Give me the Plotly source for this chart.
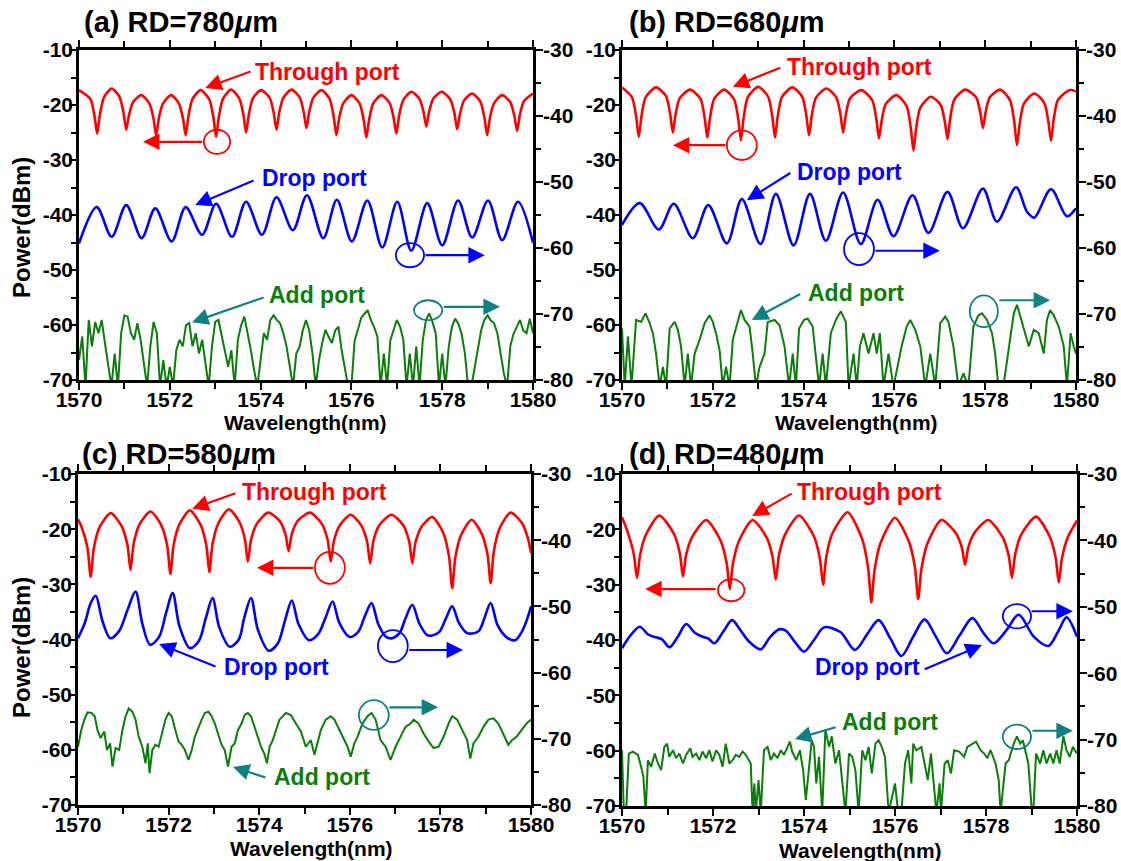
import numpy as np
import plotly.graph_objects as go

# ------------------------------------------------------------------ data
# Wavelength axis (nm)
WL_RANGE = [1570, 1580]
LEFT_RANGE = [-70, -10]     # Power (dBm), through port axis
RIGHT_RANGE = [-80, -30]    # Power (dBm), drop/add port axis
left_tickvals = [-70, -60, -50, -40, -30, -20, -10]
left_ticktext = ["-70", "-60", "-50", "-40", "-30", "-20", "-10"]
right_tickvals = [-80, -70, -60, -50, -40, -30]
right_ticktext = ["-80", "-70", "-60", "-50", "-40", "-30"]
wl_tickvals = [1570, 1572, 1574, 1576, 1578, 1580]
wl_ticktext = ["1570", "1572", "1574", "1576", "1578", "1580"]

# ---------- (a) RD = 780 um ----------
thr_a_x = [1570.00, 1570.25, 1570.34, 1570.40, 1570.46, 1570.55, 1570.72, 1570.89, 1570.98, 1571.04, 1571.10, 1571.19,
           1571.37, 1571.55, 1571.64, 1571.70, 1571.76, 1571.85, 1572.03, 1572.20, 1572.29, 1572.35, 1572.41, 1572.50,
           1572.68, 1572.87, 1572.96, 1573.02, 1573.08, 1573.17, 1573.35, 1573.53, 1573.62, 1573.68, 1573.74, 1573.83,
           1574.01, 1574.20, 1574.29, 1574.35, 1574.41, 1574.50, 1574.68, 1574.86, 1574.95, 1575.01, 1575.07, 1575.16,
           1575.34, 1575.52, 1575.61, 1575.67, 1575.73, 1575.82, 1576.00, 1576.18, 1576.27, 1576.33, 1576.39, 1576.48,
           1576.66, 1576.84, 1576.93, 1576.99, 1577.05, 1577.14, 1577.32, 1577.50, 1577.59, 1577.65, 1577.71, 1577.80,
           1577.99, 1578.18, 1578.27, 1578.33, 1578.39, 1578.48, 1578.66, 1578.84, 1578.93, 1578.99, 1579.05, 1579.14,
           1579.32, 1579.50, 1579.59, 1579.65, 1579.71, 1579.80, 1580.00]
thr_a_y = [-17.3, -18.9, -21.9, -25.2, -21.8, -18.6, -17.0, -18.5, -21.35, -24.5, -21.9, -19.5,
           -18.2, -19.7, -22.4, -25.5, -22.4, -19.7, -18.2, -19.7, -22.4, -25.5, -22.1, -18.9,
           -17.3, -19.0, -22.2, -25.8, -22.2, -18.9, -17.2, -18.8, -21.7, -25.0, -21.8, -18.8,
           -17.3, -18.7, -21.5, -24.5, -21.4, -18.7, -17.2, -18.6, -21.3, -24.2, -21.3, -18.7,
           -17.3, -18.9, -22.1, -25.5, -22.4, -19.7, -18.2, -19.7, -22.7, -25.9, -22.7, -19.7,
           -18.2, -19.6, -22.3, -25.2, -22.0, -19.1, -17.6, -18.9, -21.3, -23.9, -21.3, -18.9,
           -17.6, -19.0, -21.5, -24.4, -21.7, -19.2, -17.9, -19.4, -22.3, -25.5, -22.4, -19.7,
           -18.2, -19.5, -22.0, -24.7, -21.8, -19.3, -17.9]
drop_a_x = [1570.00, 1570.39, 1570.72, 1571.04, 1571.38, 1571.68, 1572.04, 1572.35, 1572.71, 1573.02, 1573.37,
            1573.68, 1574.03, 1574.35, 1574.71, 1575.02, 1575.38, 1575.68, 1576.01, 1576.35, 1576.68, 1577.01,
            1577.32, 1577.67, 1578.00, 1578.35, 1578.66, 1579.01, 1579.32, 1579.67, 1580.00]
drop_a_y = [-59.3, -53.8, -58.3, -53.5, -58.5, -54.0, -59.0, -53.8, -58.0, -53.3, -58.3,
            -53.0, -58.0, -52.3, -57.3, -52.0, -58.5, -52.7, -59.0, -52.8, -59.9, -53.0,
            -60.4, -53.2, -59.6, -52.8, -58.4, -52.8, -58.8, -53.0, -59.2]
add_a_x = list(np.round(np.linspace(1570, 1580, 141), 4))
add_a_y = [-77.0, -73.4, -81, -70.9, -74.9, -71.2, -72.9, -70.9, -74.4, -78.0,
           -81, -76.0, -81, -72.9, -70.2, -70.4, -72.9, -73.9, -71.4, -73.9,
           -78.0, -81, -74.9, -71.2, -72.9, -81, -77.0, -81, -78.0, -81,
           -75.5, -73.9, -74.9, -71.7, -71.4, -74.9, -72.9, -76.0, -73.9, -78.0,
           -81, -74.9, -71.2, -70.9, -73.4, -75.5, -78.0, -75.5, -81, -73.9,
           -71.7, -70.4, -72.9, -75.5, -78.5, -81, -77.0, -72.9, -73.9, -70.9,
           -70.2, -70.9, -71.4, -72.9, -74.9, -78.0, -81, -76.0, -75.0, -72.5,
           -70.9, -72.5, -76.0, -81, -77.0, -74.4, -72.4, -73.5, -74.4, -72.5,
           -71.9, -75.5, -78.0, -81, -81, -74.0, -72.4, -70.6, -70.0, -69.4,
           -70.9, -72.0, -73.4, -81, -76.0, -81, -74.0, -72.4, -70.9, -71.9,
           -73.9, -81, -76.0, -81, -74.9, -81, -74.0, -70.9, -69.9, -71.2,
           -72.9, -81, -76.0, -81, -75.0, -71.9, -70.7, -71.5, -73.0, -76.0,
           -81, -81, -78.0, -74.9, -72.5, -70.9, -70.2, -71.0, -71.4, -72.9,
           -76.0, -79.0, -81, -74.9, -73.0, -71.9, -70.9, -72.5, -72.9, -70.7,
           -72.9]

# ---------- (b) RD = 680 um ----------
thr_b_x = [1570.00, 1570.22, 1570.31, 1570.37, 1570.43, 1570.52, 1570.75, 1570.97, 1571.06, 1571.12, 1571.18, 1571.27,
           1571.50, 1571.73, 1571.82, 1571.88, 1571.94, 1572.03, 1572.25, 1572.47, 1572.56, 1572.62, 1572.68, 1572.77,
           1573.00, 1573.22, 1573.31, 1573.37, 1573.43, 1573.52, 1573.75, 1573.97, 1574.06, 1574.12, 1574.18, 1574.27,
           1574.50, 1574.72, 1574.81, 1574.87, 1574.93, 1575.02, 1575.27, 1575.51, 1575.60, 1575.66, 1575.72, 1575.81,
           1576.04, 1576.27, 1576.36, 1576.42, 1576.48, 1576.57, 1576.80, 1577.02, 1577.11, 1577.17, 1577.23, 1577.32,
           1577.56, 1577.80, 1577.89, 1577.95, 1578.01, 1578.10, 1578.33, 1578.55, 1578.64, 1578.70, 1578.76, 1578.85,
           1579.08, 1579.30, 1579.39, 1579.45, 1579.51, 1579.60, 1579.85, 1580.00]
thr_b_y = [-16.8, -18.6, -22.0, -25.8, -22.0, -18.6, -16.8, -18.4, -21.6, -25.0, -21.7, -18.8,
           -17.2, -18.9, -22.3, -25.9, -22.3, -18.9, -17.2, -19.0, -22.5, -26.4, -22.3, -18.6,
           -16.7, -18.5, -22.0, -25.9, -22.1, -18.6, -16.8, -18.5, -21.9, -25.5, -21.9, -18.7,
           -17.0, -18.6, -21.6, -25.0, -21.8, -18.8, -17.3, -19.1, -22.4, -26.1, -22.8, -19.8,
           -18.2, -20.2, -24.1, -28.3, -24.2, -20.5, -18.5, -20.0, -23.0, -26.2, -22.4, -19.0,
           -17.2, -18.6, -21.3, -24.2, -21.3, -18.6, -17.2, -19.2, -23.1, -27.3, -23.4, -19.8,
           -17.9, -19.6, -22.9, -26.5, -22.6, -19.1, -17.3, -17.5]
drop_b_x = [1570.00, 1570.39, 1570.81, 1571.14, 1571.56, 1571.90, 1572.31, 1572.64, 1573.05, 1573.39, 1573.78,
            1574.14, 1574.49, 1574.87, 1575.26, 1575.63, 1575.98, 1576.40, 1576.75, 1577.17, 1577.51, 1577.95,
            1578.26, 1578.68, 1578.92, 1579.08, 1579.45, 1579.80, 1580.00]
drop_b_y = [-56.5, -53.2, -57.2, -53.3, -58.5, -53.5, -59.3, -52.6, -59.4, -51.8, -59.6,
            -51.8, -58.9, -51.6, -59.4, -52.7, -58.2, -52.0, -57.7, -51.5, -57.0, -51.0,
            -56.0, -50.8, -54.5, -55.4, -51.1, -55.2, -54.0]
add_b_x = [1570.00, 1570.06, 1570.13, 1570.21, 1570.31, 1570.42, 1570.52, 1570.61, 1570.68, 1570.75,
           1570.83, 1570.90, 1570.97, 1571.05, 1571.16, 1571.23, 1571.30, 1571.38, 1571.45, 1571.52,
           1571.60, 1571.71, 1571.82, 1571.93, 1572.00, 1572.07, 1572.15, 1572.22, 1572.29, 1572.37,
           1572.44, 1572.55, 1572.62, 1572.70, 1572.81, 1572.88, 1572.95, 1573.03, 1573.14, 1573.21,
           1573.36, 1573.47, 1573.58, 1573.68, 1573.76, 1573.83, 1573.90, 1574.01, 1574.09, 1574.20,
           1574.34, 1574.42, 1574.49, 1574.60, 1574.71, 1574.82, 1574.93, 1574.99, 1575.10, 1575.17,
           1575.24, 1575.32, 1575.43, 1575.54, 1575.61, 1575.68, 1575.76, 1575.87, 1575.98, 1576.16,
           1576.27, 1576.35, 1576.46, 1576.57, 1576.68, 1576.79, 1576.90, 1577.01, 1577.12, 1577.19,
           1577.30, 1577.41, 1577.52, 1577.63, 1577.74, 1577.85, 1577.93, 1578.04, 1578.15, 1578.22,
           1578.29, 1578.40, 1578.51, 1578.63, 1578.70, 1578.77, 1578.88, 1578.96, 1579.07, 1579.18,
           1579.29, 1579.36, 1579.43, 1579.51, 1579.62, 1579.73, 1579.80, 1579.88, 1579.95, 1580.00]
add_b_y = [-72.2, -81, -73.4, -81, -70.9, -71.2, -69.9, -71.4, -72.9, -76.0,
           -81, -78.0, -81, -72.2, -71.2, -72.4, -74.9, -81, -76.0, -81,
           -76.0, -73.9, -71.4, -70.2, -71.2, -72.9, -75.5, -81, -78.0, -81,
           -73.9, -70.9, -69.4, -70.9, -71.9, -76.0, -81, -78.0, -76.0, -71.2,
           -70.9, -71.7, -74.9, -81, -76.0, -81, -72.2, -70.9, -70.7, -71.9,
           -81, -76.0, -81, -72.9, -70.9, -69.6, -71.2, -81, -76.0, -81,
           -74.9, -72.9, -76.0, -72.9, -76.0, -72.9, -81, -76.0, -81, -74.9,
           -71.9, -70.9, -72.4, -74.9, -81, -76.0, -81, -71.4, -70.4, -71.2,
           -74.9, -81, -79.0, -81, -71.9, -70.2, -69.9, -70.9, -72.9, -76.0,
           -81, -81, -75.5, -69.9, -68.6, -70.4, -72.9, -74.9, -72.4, -72.9,
           -76.0, -70.9, -69.4, -70.2, -71.9, -74.9, -81, -72.9, -74.9, -76.0]

# ---------- (c) RD = 580 um ----------
thr_c_x = [1570.00, 1570.08, 1570.21, 1570.28, 1570.35, 1570.48, 1570.72, 1570.96, 1571.09, 1571.16, 1571.23, 1571.36,
           1571.60, 1571.84, 1571.97, 1572.04, 1572.11, 1572.24, 1572.47, 1572.70, 1572.83, 1572.90, 1572.97, 1573.10,
           1573.33, 1573.55, 1573.68, 1573.75, 1573.82, 1573.95, 1574.20, 1574.45, 1574.58, 1574.65, 1574.72, 1574.85,
           1575.12, 1575.38, 1575.51, 1575.58, 1575.65, 1575.78, 1576.02, 1576.25, 1576.38, 1576.45, 1576.52, 1576.65,
           1576.92, 1577.18, 1577.31, 1577.38, 1577.45, 1577.58, 1577.82, 1578.06, 1578.19, 1578.26, 1578.33, 1578.46,
           1578.69, 1578.91, 1579.04, 1579.11, 1579.18, 1579.31, 1579.55, 1579.80, 1579.93, 1580.00]
thr_c_y = [-18.2, -19.6, -23.4, -28.6, -23.4, -19.6, -17.1, -19.4, -22.8, -27.4, -22.6, -19.1,
           -16.8, -19.3, -23.0, -28.1, -22.9, -19.1, -16.6, -19.1, -22.8, -27.8, -22.7, -18.9,
           -16.4, -18.5, -21.6, -25.9, -21.9, -19.0, -17.0, -18.5, -20.9, -24.0, -20.9, -18.5,
           -17.0, -19.0, -21.9, -25.9, -22.1, -19.3, -17.4, -19.3, -22.2, -26.2, -22.2, -19.3,
           -17.4, -19.3, -22.2, -26.2, -22.4, -19.6, -17.8, -20.6, -24.9, -30.7, -25.1, -21.0,
           -18.3, -20.8, -24.6, -29.8, -24.0, -19.8, -17.0, -18.9, -21.6, -24.3]
drop_c_x = [1570.00, 1570.15, 1570.28, 1570.39, 1570.54, 1570.71, 1570.91, 1571.09, 1571.27, 1571.42, 1571.59,
            1571.79, 1571.94, 1572.09, 1572.24, 1572.47, 1572.67, 1572.82, 1572.97, 1573.12, 1573.35, 1573.55,
            1573.67, 1573.82, 1573.97, 1574.21, 1574.41, 1574.57, 1574.72, 1574.87, 1575.10, 1575.30, 1575.47,
            1575.62, 1575.77, 1575.99, 1576.19, 1576.33, 1576.48, 1576.63, 1576.80, 1576.94, 1577.10, 1577.23,
            1577.38, 1577.53, 1577.70, 1577.82, 1577.98, 1578.11, 1578.26, 1578.41, 1578.58, 1578.70, 1578.85,
            1578.96, 1579.11, 1579.26, 1579.45, 1579.65, 1579.80, 1579.92, 1580.00]
drop_c_y = [-54.8, -52.5, -49.5, -48.4, -52.2, -54.8, -53.7, -50.6, -47.75, -52.6, -55.8,
            -54.6, -51.1, -48.0, -53.0, -56.3, -55.2, -51.8, -48.75, -53.2, -56.1, -55.0,
            -51.7, -48.75, -53.5, -56.7, -55.6, -52.1, -49.1, -52.7, -55.1, -54.2, -51.6,
            -49.25, -52.5, -54.6, -53.8, -51.5, -49.5, -52.7, -54.6, -54.8, -54.0, -51.8,
            -49.75, -52.5, -54.3, -54.4, -53.8, -52.0, -50.0, -52.5, -54.0, -54.1, -53.7,
            -52.0, -49.5, -52.8, -54.6, -55.1, -53.8, -51.8, -50.0]
add_c_x = [1570.00, 1570.07, 1570.14, 1570.21, 1570.30, 1570.37, 1570.43, 1570.50, 1570.58, 1570.64,
           1570.71, 1570.76, 1570.83, 1570.91, 1570.98, 1571.05, 1571.12, 1571.20, 1571.27, 1571.34,
           1571.42, 1571.49, 1571.54, 1571.58, 1571.64, 1571.71, 1571.78, 1571.85, 1571.93, 1572.00,
           1572.07, 1572.15, 1572.22, 1572.29, 1572.36, 1572.44, 1572.51, 1572.58, 1572.66, 1572.73,
           1572.80, 1572.88, 1572.95, 1573.02, 1573.09, 1573.17, 1573.24, 1573.31, 1573.39, 1573.46,
           1573.53, 1573.61, 1573.68, 1573.75, 1573.82, 1573.90, 1573.97, 1574.04, 1574.12, 1574.17,
           1574.23, 1574.30, 1574.37, 1574.45, 1574.59, 1574.70, 1574.81, 1574.92, 1575.03, 1575.14,
           1575.22, 1575.29, 1575.36, 1575.47, 1575.58, 1575.66, 1575.77, 1575.88, 1575.95, 1576.02,
           1576.10, 1576.17, 1576.28, 1576.39, 1576.48, 1576.57, 1576.68, 1576.79, 1576.90, 1577.01,
           1577.12, 1577.23, 1577.34, 1577.41, 1577.52, 1577.63, 1577.74, 1577.85, 1577.96, 1578.07,
           1578.18, 1578.26, 1578.37, 1578.48, 1578.59, 1578.66, 1578.73, 1578.84, 1578.95, 1579.06,
           1579.17, 1579.28, 1579.39, 1579.50, 1579.58, 1579.68, 1579.79, 1579.90, 1580.00]
add_c_y = [-71.2, -68.7, -67.1, -66.0, -66.1, -66.6, -68.7, -69.9, -68.9, -71.7,
           -70.7, -74.2, -71.4, -71.7, -68.7, -66.6, -65.4, -65.9, -67.1, -69.7,
           -71.2, -73.7, -70.7, -75.2, -71.7, -70.9, -71.2, -69.2, -67.1, -66.1,
           -66.6, -68.7, -70.4, -70.9, -71.7, -73.2, -71.7, -69.7, -68.2, -67.1,
           -66.1, -65.9, -66.6, -67.7, -69.2, -70.9, -71.7, -74.2, -71.2, -70.7,
           -68.7, -67.7, -66.4, -66.1, -66.6, -68.2, -69.7, -71.2, -72.4, -73.7,
           -71.2, -70.2, -68.7, -67.1, -66.1, -66.4, -67.7, -68.9, -71.2, -70.2,
           -72.4, -70.7, -68.7, -67.1, -66.6, -67.1, -68.7, -70.2, -71.2, -72.7,
           -70.7, -69.7, -67.7, -66.6, -66.1, -67.1, -70.2, -71.2, -73.2, -71.2,
           -69.7, -68.2, -67.7, -67.1, -67.7, -69.2, -70.4, -71.4, -71.2, -69.7,
           -67.7, -66.6, -67.1, -68.7, -70.2, -73.0, -70.7, -69.7, -68.2, -67.1,
           -66.9, -67.7, -69.2, -70.9, -70.2, -69.7, -68.7, -67.7, -67.1]

# ---------- (d) RD = 480 um ----------
thr_d_x = [1570.00, 1570.13, 1570.26, 1570.33, 1570.40, 1570.53, 1570.82, 1571.14, 1571.27, 1571.34, 1571.41, 1571.54,
           1571.85, 1572.17, 1572.30, 1572.37, 1572.44, 1572.57, 1572.87, 1573.18, 1573.31, 1573.38, 1573.45, 1573.58,
           1573.89, 1574.22, 1574.35, 1574.42, 1574.49, 1574.62, 1574.96, 1575.28, 1575.41, 1575.48, 1575.55, 1575.68,
           1576.00, 1576.31, 1576.44, 1576.51, 1576.58, 1576.71, 1577.02, 1577.34, 1577.47, 1577.54, 1577.61, 1577.74,
           1578.05, 1578.37, 1578.50, 1578.57, 1578.64, 1578.77, 1579.10, 1579.40, 1579.53, 1579.60, 1579.67, 1579.80,
           1580.00]
thr_d_y = [-17.8, -20.6, -24.5, -28.8, -24.5, -20.9, -17.5, -20.8, -24.3, -28.5, -24.6, -21.4,
           -18.3, -22.1, -26.1, -30.8, -26.1, -22.1, -18.3, -21.5, -25.0, -29.1, -24.7, -21.0,
           -17.5, -21.3, -25.3, -30.0, -25.0, -20.8, -16.9, -21.8, -27.0, -33.2, -27.4, -22.5,
           -17.9, -22.3, -27.0, -32.6, -27.2, -22.6, -18.3, -20.7, -23.3, -26.4, -23.3, -20.7,
           -18.3, -21.5, -24.8, -28.8, -24.6, -21.0, -17.7, -21.3, -25.1, -29.6, -25.2, -21.4,
           -18.4]
drop_d_x = [1570.00, 1570.20, 1570.39, 1570.58, 1570.75, 1570.88, 1571.04, 1571.22, 1571.41, 1571.60, 1571.77,
            1571.90, 1572.03, 1572.22, 1572.42, 1572.60, 1572.80, 1573.05, 1573.25, 1573.45, 1573.60, 1573.80,
            1574.00, 1574.22, 1574.44, 1574.80, 1575.12, 1575.40, 1575.64, 1575.90, 1576.14, 1576.40, 1576.65,
            1576.90, 1577.14, 1577.42, 1577.70, 1577.95, 1578.17, 1578.45, 1578.72, 1579.05, 1579.37, 1579.58,
            1579.77, 1580.00]
drop_d_y = [-56.25, -54.2, -53.0, -54.2, -54.6, -54.9, -56.1, -54.6, -52.6, -53.9, -54.5,
            -54.8, -55.5, -53.8, -52.0, -53.5, -55.3, -56.4, -54.6, -53.4, -53.6, -55.3,
            -56.75, -55.0, -53.1, -53.8, -56.5, -54.0, -52.0, -54.8, -57.4, -54.5, -51.9,
            -54.5, -57.0, -54.3, -51.7, -54.0, -55.5, -53.5, -51.2, -54.5, -55.9, -53.8,
            -51.6, -54.5]
add_d_x = [1570.00, 1570.04, 1570.09, 1570.15, 1570.24, 1570.35, 1570.42, 1570.47, 1570.52, 1570.57,
           1570.64, 1570.72, 1570.79, 1570.86, 1570.93, 1570.99, 1571.04, 1571.12, 1571.19, 1571.26,
           1571.34, 1571.41, 1571.50, 1571.55, 1571.63, 1571.70, 1571.77, 1571.85, 1571.92, 1571.99,
           1572.07, 1572.14, 1572.21, 1572.28, 1572.36, 1572.43, 1572.50, 1572.58, 1572.65, 1572.72,
           1572.83, 1572.87, 1572.91, 1572.94, 1573.00, 1573.05, 1573.12, 1573.20, 1573.27, 1573.34,
           1573.42, 1573.49, 1573.56, 1573.64, 1573.69, 1573.74, 1573.83, 1573.91, 1573.98, 1574.04,
           1574.11, 1574.17, 1574.22, 1574.27, 1574.33, 1574.40, 1574.47, 1574.55, 1574.61, 1574.69,
           1574.77, 1574.84, 1574.91, 1574.99, 1575.06, 1575.13, 1575.20, 1575.28, 1575.35, 1575.42,
           1575.49, 1575.57, 1575.64, 1575.71, 1575.78, 1575.86, 1575.93, 1576.00, 1576.07, 1576.14,
           1576.22, 1576.29, 1576.36, 1576.40, 1576.47, 1576.58, 1576.65, 1576.72, 1576.79, 1576.87,
           1576.91, 1576.98, 1577.01, 1577.09, 1577.16, 1577.23, 1577.30, 1577.41, 1577.52, 1577.59,
           1577.70, 1577.78, 1577.88, 1577.96, 1578.03, 1578.10, 1578.21, 1578.28, 1578.32, 1578.38,
           1578.43, 1578.50, 1578.61, 1578.68, 1578.75, 1578.81, 1578.86, 1578.93, 1579.01, 1579.04,
           1579.10, 1579.19, 1579.26, 1579.33, 1579.41, 1579.48, 1579.55, 1579.62, 1579.70, 1579.77,
           1579.84, 1579.91, 1580.00]
add_d_y = [-71.6, -81, -81, -72.1, -71.8, -72.3, -74.1, -75.6, -81, -73.1,
           -74.1, -72.1, -73.6, -74.6, -71.1, -70.6, -72.6, -71.6, -72.8, -72.1,
           -73.6, -72.3, -71.3, -72.6, -72.1, -73.1, -71.8, -72.8, -71.6, -73.3,
           -71.6, -72.3, -74.1, -70.6, -73.6, -73.1, -72.3, -72.6, -71.8, -72.3,
           -73.6, -81, -76.6, -81, -76.1, -81, -71.6, -71.1, -73.1, -72.1,
           -72.8, -71.6, -72.3, -71.1, -70.3, -71.8, -73.1, -71.6, -74.6, -79.1,
           -73.6, -70.1, -71.1, -76.6, -72.6, -81, -68.5, -71.1, -69.5, -73.6,
           -71.6, -76.6, -81, -72.1, -72.6, -74.6, -81, -71.6, -73.1, -71.1,
           -75.1, -70.6, -70.1, -71.1, -72.6, -81, -78.6, -76.6, -81, -81,
           -73.6, -71.6, -76.6, -70.6, -71.6, -71.1, -73.6, -76.1, -72.1, -77.6,
           -81, -76.6, -81, -73.6, -73.1, -75.1, -71.6, -71.8, -72.6, -71.1,
           -70.6, -70.3, -71.6, -72.1, -72.8, -71.6, -73.6, -76.1, -81, -76.6,
           -73.6, -73.1, -70.6, -69.5, -70.6, -70.1, -71.6, -73.6, -81, -81,
           -72.1, -73.6, -71.6, -73.6, -72.1, -73.6, -71.6, -73.6, -69.5, -71.6,
           -72.6, -71.1, -72.1]

panel_titles = ["(a) RD=780", "(b) RD=680", "(c) RD=580", "(d) RD=480"]

for a, b in [(thr_a_x, thr_a_y), (drop_a_x, drop_a_y), (add_a_x, add_a_y),
             (thr_b_x, thr_b_y), (drop_b_x, drop_b_y), (add_b_x, add_b_y),
             (thr_c_x, thr_c_y), (drop_c_x, drop_c_y), (add_c_x, add_c_y),
             (thr_d_x, thr_d_y), (drop_d_x, drop_d_y), (add_d_x, add_d_y)]:
    assert len(a) == len(b), (len(a), len(b), a[0])

# ------------------------------------------------------------------ style
W, H = 1121, 861
FONT = "Liberation Sans, Arial, sans-serif"
RED, BLUE, GREEN, TEAL = "#ff0000", "#0000ff", "#0a7d0a", "#118080"


def px(x):
    return x / W


def py(y):
    return 1 - y / H


# panel pixel boxes: (left, right, top, bottom)
boxes = [(79, 533, 50, 380), (622, 1076, 50, 380), (78, 531, 474, 805), (622, 1077, 474, 806)]

fig = go.Figure()
series = [
    (thr_a_x, thr_a_y, drop_a_x, drop_a_y, add_a_x, add_a_y),
    (thr_b_x, thr_b_y, drop_b_x, drop_b_y, add_b_x, add_b_y),
    (thr_c_x, thr_c_y, drop_c_x, drop_c_y, add_c_x, add_c_y),
    (thr_d_x, thr_d_y, drop_d_x, drop_d_y, add_d_x, add_d_y),
]
tickfont = dict(family=FONT, size=21, color="black", weight="bold")
layout = {}
for i, (tx, ty, dx, dy, ax_, ay_) in enumerate(series):
    n = i + 1
    xs = "x" if n == 1 else f"x{n}"
    yl = "y" if n == 1 else f"y{n}"
    yr = f"y{n + 4}"
    fig.add_trace(go.Scatter(x=tx, y=ty, xaxis=xs, yaxis=yl, mode="lines",
                             line=dict(color=RED, width=2.6, shape="spline", smoothing=0.7),
                             showlegend=False, hoverinfo="skip"))
    fig.add_trace(go.Scatter(x=dx, y=dy, xaxis=xs, yaxis=yr, mode="lines",
                             line=dict(color=BLUE, width=2.6, shape="spline", smoothing=0.9),
                             showlegend=False, hoverinfo="skip"))
    fig.add_trace(go.Scatter(x=ax_, y=ay_, xaxis=xs, yaxis=yr, mode="lines",
                             line=dict(color=GREEN, width=2.0),
                             showlegend=False, hoverinfo="skip"))
    l, r, t, b = boxes[i]
    xdom = [px(l), px(r)]
    ydom = [py(b), py(t)]
    common = dict(showline=True, linewidth=2.6, linecolor="black", ticks="outside",
                  ticklen=7, tickwidth=2.4, tickcolor="black", showgrid=False,
                  zeroline=False, tickfont=tickfont, automargin=False, tickmode="array")
    layout["xaxis" if n == 1 else f"xaxis{n}"] = dict(
        domain=xdom, anchor=yl, range=WL_RANGE, tickvals=wl_tickvals, ticktext=wl_ticktext, mirror="ticks",
        minor=dict(dtick=1, tick0=1570, ticks="outside", ticklen=6, tickwidth=2.2, tickcolor="black", showgrid=False),
        ticklabelstandoff=-8, **common)
    layout["yaxis" if n == 1 else f"yaxis{n}"] = dict(
        domain=ydom, anchor=xs, range=LEFT_RANGE, tickvals=left_tickvals, ticktext=left_ticktext,
        minor=dict(dtick=5, tick0=-70, ticks="outside", ticklen=5, tickwidth=2.2, tickcolor="black", showgrid=False),
        ticklabelstandoff=-8, **common)
    layout[f"yaxis{n + 4}"] = dict(
        domain=ydom, anchor=xs, overlaying=yl, side="right", range=RIGHT_RANGE,
        tickvals=right_tickvals, ticktext=right_ticktext,
        minor=dict(dtick=5, tick0=-80, ticks="outside", ticklen=5, tickwidth=2.2, tickcolor="black", showgrid=False),
        ticklabelstandoff=-4, **common)

ann = []
shapes = []


def label(n, x, y, text, color):
    xr = "x" if n == 1 else f"x{n}"
    yr = "y" if n == 1 else f"y{n}"
    ann.append(dict(xref=xr, yref=yr, x=x, y=y, text=text, showarrow=False, xanchor="left",
                    yanchor="middle", font=dict(family=FONT, size=23, color=color, weight="bold")))


def arrow(n, tail, head, color):
    xr = "x" if n == 1 else f"x{n}"
    yr = "y" if n == 1 else f"y{n}"
    ann.append(dict(xref=xr, yref=yr, axref=xr, ayref=yr, x=head[0], y=head[1], ax=tail[0], ay=tail[1],
                    text="", showarrow=True, arrowhead=2, arrowsize=1.5, arrowwidth=2.2,
                    arrowcolor=color, standoff=0, startstandoff=0))


def ring(n, cx, cy, rx, ry, color):
    xr = "x" if n == 1 else f"x{n}"
    yr = "y" if n == 1 else f"y{n}"
    shapes.append(dict(type="circle", xref=xr, yref=yr, x0=cx - rx, x1=cx + rx, y0=cy - ry, y1=cy + ry,
                       line=dict(color=color, width=1.8)))


# (a)
label(1, 1573.83, -14.0, "Through port", RED)
arrow(1, (1573.81, -13.8), (1572.78, -16.9), RED)
ring(1, 1573.04, -26.7, 0.29, 2.2, RED)
arrow(1, (1572.75, -26.7), (1571.41, -26.7), RED)
label(1, 1573.99, -33.3, "Drop port", BLUE)
arrow(1, (1573.88, -33.6), (1572.56, -38.2), BLUE)
ring(1, 1577.29, -47.3, 0.31, 2.2, BLUE)
arrow(1, (1577.60, -47.3), (1578.94, -47.3), BLUE)
label(1, 1574.14, -54.5, "Add port", GREEN)
arrow(1, (1574.10, -54.9), (1572.49, -59.5), TEAL)
ring(1, 1577.69, -57.3, 0.31, 1.8, TEAL)
arrow(1, (1578.00, -56.7), (1579.27, -56.7), TEAL)
# (b)
label(2, 1573.59, -13.1, "Through port", RED)
arrow(2, (1573.52, -13.1), (1572.44, -16.7), RED)
ring(2, 1572.64, -27.3, 0.33, 2.7, RED)
arrow(2, (1572.31, -27.3), (1571.12, -27.3), RED)
label(2, 1573.81, -32.2, "Drop port", BLUE)
arrow(2, (1573.74, -32.2), (1572.75, -37.3), BLUE)
ring(2, 1575.22, -46.2, 0.33, 2.9, BLUE)
arrow(2, (1575.55, -46.5), (1577.0, -46.5), BLUE)
label(2, 1574.05, -54.2, "Add port", GREEN)
arrow(2, (1573.96, -54.2), (1572.86, -59.1), TEAL)
ring(2, 1577.97, -57.5, 0.31, 2.9, TEAL)
arrow(2, (1578.28, -55.5), (1579.43, -55.5), TEAL)
# (c)
label(3, 1573.58, -13.3, "Through port", RED)
arrow(3, (1573.51, -13.4), (1572.52, -16.3), RED)
ring(3, 1575.56, -27.0, 0.33, 2.9, RED)
arrow(3, (1575.23, -27.0), (1573.95, -27.0), RED)
label(3, 1573.18, -45.0, "Drop port", BLUE)
arrow(3, (1573.07, -45.0), (1571.79, -40.8), BLUE)
ring(3, 1576.95, -41.2, 0.33, 2.9, BLUE)
arrow(3, (1577.28, -41.9), (1578.50, -41.9), BLUE)
label(3, 1574.28, -64.9, "Add port", GREEN)
arrow(3, (1574.17, -65.1), (1573.42, -63.1), TEAL)
ring(3, 1576.53, -53.7, 0.33, 2.7, TEAL)
arrow(3, (1576.84, -52.3), (1577.95, -52.3), TEAL)
# (d)
label(4, 1573.80, -13.3, "Through port", RED)
arrow(4, (1573.76, -13.4), (1572.86, -17.6), RED)
ring(4, 1572.40, -31.0, 0.29, 2.0, RED)
arrow(4, (1572.09, -30.8), (1570.51, -30.8), RED)
label(4, 1574.20, -44.9, "Drop port", BLUE)
arrow(4, (1576.62, -45.4), (1577.91, -40.9), BLUE)
ring(4, 1578.68, -35.7, 0.31, 2.2, BLUE)
arrow(4, (1578.97, -34.8), (1579.91, -34.8), BLUE)
label(4, 1574.79, -54.8, "Add port", GREEN)
arrow(4, (1574.73, -55.7), (1573.80, -57.9), TEAL)
ring(4, 1578.68, -57.5, 0.31, 2.2, TEAL)
arrow(4, (1578.99, -56.4), (1579.91, -56.4), TEAL)

# titles and axis titles (paper coordinates)
title_pos = [(82, 22), (627, 22), (80, 454), (627, 454)]
for (tx_, ty_), t in zip(title_pos, panel_titles):
    ann.append(dict(xref="paper", yref="paper", x=px(tx_), y=py(ty_), xanchor="left", yanchor="middle",
                    text=t + "<i>μ</i>m", showarrow=False,
                    font=dict(family=FONT, size=29, color="black", weight="bold")))
for (xx, yy) in [(305, 423), (856, 423), (312, 848), (860, 850)]:
    ann.append(dict(xref="paper", yref="paper", x=px(xx), y=py(yy), xanchor="center", yanchor="middle",
                    text="Wavelength(nm)", showarrow=False,
                    font=dict(family=FONT, size=21, color="black", weight="bold")))
for yy in [228, 648]:
    ann.append(dict(xref="paper", yref="paper", x=px(21), y=py(yy), xanchor="center", yanchor="middle",
                    text="Power(dBm)", textangle=-90, showarrow=False,
                    font=dict(family=FONT, size=24, color="black", weight="bold")))

fig.update_layout(width=W, height=H, margin=dict(l=0, r=0, t=0, b=0, pad=0, autoexpand=False),
                  paper_bgcolor="white", plot_bgcolor="white", showlegend=False,
                  annotations=ann, shapes=shapes, **layout)

fig.write_html("out.html", config={"displayModeBar": False},
               post_script="document.body.style.margin='0';document.body.style.overflow='hidden';")
